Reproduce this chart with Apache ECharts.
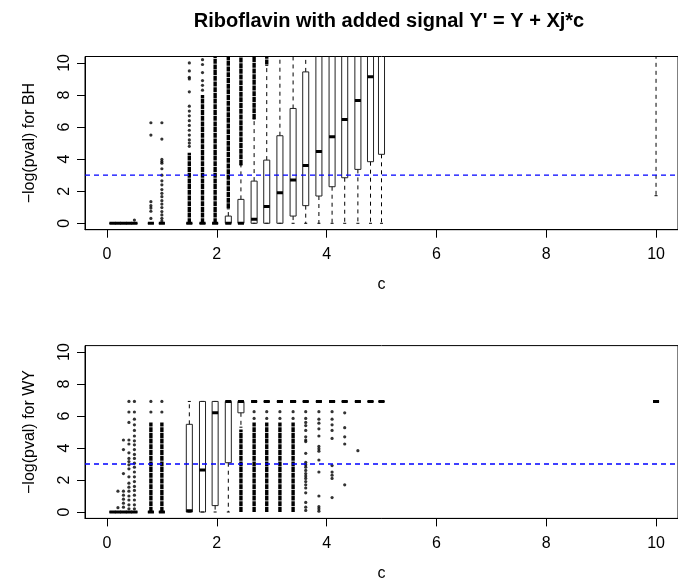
<!DOCTYPE html>
<html>
<head>
<meta charset="utf-8">
<title>Riboflavin boxplots</title>
<script src="https://cdn.jsdelivr.net/npm/echarts@6/dist/echarts.min.js"></script>
<style>
	html, body { margin: 0; padding: 0; background: #fff; }
	#chart { width: 678px; height: 587px; }
</style>
</head>
<body>
<div id="chart"></div>
<script>
// signal sizes c (same positions in both panels)
var cValues = [0.1, 0.2, 0.3, 0.4, 0.5, 0.8, 1.0, 1.5, 1.74, 1.97, 2.21, 2.44, 2.68, 2.91, 3.15, 3.39, 3.62, 3.86, 4.1, 4.33, 4.57, 4.8, 5.0, 10];

// BH panel: whisker low, Q1, median, Q3, whisker high
var bhLow  = [0, 0, 0, 0, 0, 0, 0, 0, 0, 0, 0, 0, 0, 0, 0, 0, 0, 0, 0, 0, 0, 0, 0, 1.72];
var bhQ1   = [0, 0, 0, 0, 0, 0, 0, 0, 0, 0, 0, 0, 0, 0, 0, 0.45, 1.1, 1.7, 2.28, 2.84, 3.36, 3.84, 4.3, 12];
var bhMed  = [0, 0, 0, 0, 0, 0, 0, 0, 0, 0, 0, 0, 0.25, 1.04, 1.9, 2.7, 3.6, 4.48, 5.4, 6.47, 7.66, 9.13, 11, 14];
var bhQ3   = [0, 0, 0, 0, 0, 0, 0, 0, 0, 0, 0.45, 1.49, 2.63, 3.94, 5.46, 7.16, 9.44, 11.5, 12.5, 13.5, 14.5, 15.5, 16.5, 16];
var bhHigh = [0, 0, 0, 0, 0, 0, 0, 0, 0, 0, 0.9, 3.63, 6.5, 9.85, 13, 16, 20, 23, 26, 29, 32, 35, 37, 20];
// BH outliers: dense runs [c, from, to] and single points [c, value]
var bhDense = [[1.5, 0, 4.4], [1.74, 0, 8.0], [1.97, 0, 10.4], [2.21, 0.93, 10.4], [2.44, 3.63, 10.4], [2.68, 6.5, 10.4], [2.91, 9.9, 10.4]];
var bhDots = [
	[0.5, 0.2],
	[0.8, 6.27], [0.8, 5.5], [0.8, 1.35], [0.8, 1.1], [0.8, 0.95], [0.8, 0.75], [0.8, 0.3],
	[1.0, 6.27], [1.0, 5.25], [1.0, 3.98], [1.0, 3.85], [1.0, 3.75], [1.0, 3.4], [1.0, 3.0], [1.0, 2.65], [1.0, 2.4], [1.0, 2.1],
	[1.0, 1.87], [1.0, 1.66], [1.0, 1.41], [1.0, 1.2], [1.0, 0.98], [1.0, 0.73], [1.0, 0.52], [1.0, 0.31], [1.0, 0.15],
	[1.5, 10.0], [1.5, 9.5], [1.5, 9.1], [1.5, 9.0], [1.5, 8.2], [1.5, 7.3], [1.5, 7.0], [1.5, 6.7], [1.5, 6.4], [1.5, 6.1],
	[1.5, 5.8], [1.5, 5.5], [1.5, 5.2], [1.5, 5.0], [1.5, 4.8],
	[1.74, 10.2], [1.74, 9.9], [1.74, 9.4], [1.74, 8.9], [1.74, 8.6], [1.74, 8.3]
];

// WY panel
var wyLow  = [0, 0, 0, 0, 0, 0, 0, 0, 0, 0, 0, 5.3, 6.91, 6.91, 6.91, 6.91, 6.91, 6.91, 6.91, 6.91, 6.91, 6.91, 6.91, 6.91];
var wyQ1   = [0, 0, 0, 0, 0, 0, 0, 0, 0, 0.4, 3.08, 6.2, 6.91, 6.91, 6.91, 6.91, 6.91, 6.91, 6.91, 6.91, 6.91, 6.91, 6.91, 6.91];
var wyMed  = [0, 0, 0, 0, 0, 0, 0, 0.08, 2.62, 6.2, 6.91, 6.91, 6.91, 6.91, 6.91, 6.91, 6.91, 6.91, 6.91, 6.91, 6.91, 6.91, 6.91, 6.91];
var wyQ3   = [0, 0, 0, 0, 0, 0, 0, 5.48, 6.91, 6.91, 6.91, 6.91, 6.91, 6.91, 6.91, 6.91, 6.91, 6.91, 6.91, 6.91, 6.91, 6.91, 6.91, 6.91];
var wyHigh = [0, 0, 0, 0, 0, 0, 0, 6.91, 6.91, 6.91, 6.91, 6.91, 6.91, 6.91, 6.91, 6.91, 6.91, 6.91, 6.91, 6.91, 6.91, 6.91, 6.91, 6.91];
var wyDense = [[0.8, 0, 5.6], [1.0, 0, 5.6], [2.44, 0, 5.15], [2.68, 0, 5.6], [2.91, 0, 5.6], [3.15, 0, 5.6], [3.39, 0, 5.6]];
var wyDots = [
	[0.2, 1.3], [0.2, 0.27],
	[0.3, 4.5], [0.3, 3.9], [0.3, 2.4], [0.3, 1.3], [0.3, 1.05], [0.3, 0.8], [0.3, 0.55], [0.3, 0.3],
	[0.4, 6.91], [0.4, 6.25], [0.4, 5.6], [0.4, 4.5], [0.4, 4.25], [0.4, 3.7], [0.4, 3.35], [0.4, 3.15], [0.4, 2.95],
	[0.4, 2.7], [0.4, 2.2], [0.4, 1.8], [0.4, 1.55], [0.4, 1.3], [0.4, 1.0], [0.4, 0.75], [0.4, 0.45], [0.4, 0.2],
	[0.5, 6.91], [0.5, 6.25], [0.5, 5.8], [0.5, 5.45], [0.5, 5.1], [0.5, 4.75], [0.5, 4.45], [0.5, 4.2], [0.5, 3.9],
	[0.5, 3.6], [0.5, 3.35], [0.5, 3.05], [0.5, 2.8], [0.5, 2.5], [0.5, 2.2], [0.5, 1.9], [0.5, 1.6], [0.5, 1.35],
	[0.5, 1.05], [0.5, 0.75], [0.5, 0.45], [0.5, 0.2],
	[0.8, 6.91], [0.8, 6.25], [1.0, 6.91], [1.0, 6.25],
	[2.68, 6.27], [2.68, 5.85], [2.91, 6.27], [2.91, 5.85], [3.15, 6.27], [3.15, 5.85], [3.39, 6.27], [3.39, 5.85],
	[3.62, 6.27], [3.62, 5.85], [3.62, 5.6], [3.62, 5.4], [3.62, 5.1], [3.62, 4.7], [3.62, 4.5], [3.62, 4.4], [3.62, 3.67],
	[3.62, 3.1], [3.62, 2.95], [3.62, 2.8], [3.62, 2.6], [3.62, 2.4], [3.62, 2.25], [3.62, 2.1], [3.62, 1.9], [3.62, 1.7],
	[3.62, 1.5], [3.62, 1.2], [3.62, 0.6], [3.62, 0.3], [3.62, 0.1],
	[3.86, 6.27], [3.86, 5.8], [3.86, 5.55], [3.86, 5.2], [3.86, 4.75], [3.86, 4.1], [3.86, 3.95], [3.86, 3.8], [3.86, 3.25],
	[3.86, 2.5], [3.86, 1.0], [3.86, 0.33], [3.86, 0.2], [3.86, 0.05],
	[4.1, 6.27], [4.1, 5.8], [4.1, 5.45], [4.1, 5.1], [4.1, 4.6], [4.1, 2.9], [4.1, 2.5], [4.1, 2.3], [4.1, 2.1], [4.1, 0.9],
	[4.33, 6.2], [4.33, 5.27], [4.33, 4.7], [4.33, 4.25], [4.33, 1.7],
	[4.57, 3.83]
];

var ticks = [0, 2, 4, 6, 8, 10];
var cutoff = 3;

(function () {
	var font = 'Liberation Sans, Arial, Helvetica, sans-serif';
	var halfBox = 0.055;
	var axMin = -0.4, axMax = 10.4;

	function boxRows(low, q1, med, q3, high) {
		return cValues.map(function (c, i) {
			return [c, low[i], q1[i], med[i], q3[i], high[i]];
		});
	}

	// one R-style box: dashed whiskers, staples, open box, thick median
	function renderBox(params, api) {
		var c = api.value(0);
		var lo = api.value(1), q1 = api.value(2), med = api.value(3), q3 = api.value(4), hi = api.value(5);
		var xl = api.coord([c - halfBox, 0])[0];
		var xr = api.coord([c + halfBox, 0])[0];
		var xm = api.coord([c, 0])[0];
		var sl = api.coord([c - halfBox / 2, 0])[0];
		var sr = api.coord([c + halfBox / 2, 0])[0];
		function y(v) { return api.coord([c, v])[1]; }
		var dash = { stroke: '#000', lineWidth: 1, lineDash: [4, 4] };
		var solid = { stroke: '#000', lineWidth: 1 };
		var kids = [
			{ type: 'line', shape: { x1: xm, y1: y(q3), x2: xm, y2: y(hi) }, style: dash },
			{ type: 'line', shape: { x1: xm, y1: y(q1), x2: xm, y2: y(lo) }, style: dash },
			{ type: 'line', shape: { x1: sl, y1: y(hi), x2: sr, y2: y(hi) }, style: solid },
			{ type: 'line', shape: { x1: sl, y1: y(lo), x2: sr, y2: y(lo) }, style: solid },
			{ type: 'rect', shape: { x: xl, y: y(q3), width: xr - xl, height: y(q1) - y(q3) }, style: { fill: 'none', stroke: '#222', lineWidth: 1 } },
			{ type: 'line', shape: { x1: xl, y1: y(med), x2: xr, y2: y(med) }, style: { stroke: '#000', lineWidth: 3 } }
		];
		return { type: 'group', children: kids };
	}

	// a column of overlapping outlier points
	function renderDense(params, api) {
		var p1 = api.coord([api.value(0), api.value(1)]);
		var p2 = api.coord([api.value(0), api.value(2)]);
		return {
			type: 'line',
			shape: { x1: p1[0], y1: p1[1], x2: p2[0], y2: p2[1] },
			style: { stroke: '#000', lineWidth: 3.4, lineDash: [5, 0.7] }
		};
	}

	function xAxis(idx) {
		return {
			type: 'value', gridIndex: idx, min: axMin, max: axMax,
			name: 'c', nameLocation: 'middle', nameGap: 47,
			nameTextStyle: { fontFamily: font, fontSize: 16, color: '#000' },
			splitLine: { show: false },
			axisLine: { show: true, onZero: false, lineStyle: { color: '#000', width: 1 } },
			axisTick: { show: true, length: 8, customValues: ticks, lineStyle: { color: '#000' } },
			axisLabel: { customValues: ticks, margin: 17, fontFamily: font, fontSize: 16, color: '#000' }
		};
	}

	function yAxis(idx, name) {
		return {
			type: 'value', gridIndex: idx, min: axMin, max: axMax,
			name: name, nameLocation: 'middle', nameGap: 47, nameRotate: 90,
			nameTextStyle: { fontFamily: font, fontSize: 16, color: '#000' },
			splitLine: { show: false },
			axisLine: { show: true, onZero: false, lineStyle: { color: '#000', width: 1 } },
			axisTick: { show: true, length: 8, customValues: ticks, lineStyle: { color: '#000' } },
			axisLabel: { customValues: ticks, rotate: 90, margin: 12, fontFamily: font, fontSize: 16, color: '#000' }
		};
	}

	function panel(idx, rows, dense, dots) {
		return [
			{
				type: 'custom', xAxisIndex: idx, yAxisIndex: idx, clip: true,
				renderItem: renderBox, data: rows, silent: true
			},
			{
				type: 'custom', xAxisIndex: idx, yAxisIndex: idx, clip: true,
				renderItem: renderDense, data: dense, silent: true
			},
			{
				type: 'scatter', xAxisIndex: idx, yAxisIndex: idx,
				symbol: 'circle', symbolSize: 3.2, data: dots, silent: true,
				itemStyle: { color: '#000' }
			},
			{
				// horizontal cutoff line across the whole plot region
				type: 'line', xAxisIndex: idx, yAxisIndex: idx, silent: true,
				symbol: 'none', z: 5,
				data: [[axMin, cutoff], [axMax, cutoff]],
				lineStyle: { color: '#0000ff', type: [5, 4], width: 1.3, opacity: 1 },
				itemStyle: { color: '#0000ff' }
			}
		];
	}

	var chart = echarts.init(document.getElementById('chart'));
	var option = {
		animation: false,
		backgroundColor: '#fff',
		title: {
			text: "Riboflavin with added signal Y' = Y + Xj*c",
			left: 384, top: 6, textAlign: 'center',
			textStyle: { fontFamily: font, fontSize: 20, fontWeight: 'bold', color: '#000' }
		},
		grid: [
			{ left: 85, top: 56.5, width: 599, height: 173.2, show: true, borderColor: '#000', borderWidth: 1, backgroundColor: 'transparent' },
			{ left: 85, top: 345.6, width: 599, height: 172.8, show: true, borderColor: '#000', borderWidth: 1, backgroundColor: 'transparent' }
		],
		xAxis: [xAxis(0), xAxis(1)],
		yAxis: [yAxis(0, '\u2212log(pval) for BH'), yAxis(1, '\u2212log(pval) for WY')],
		series: panel(0, boxRows(bhLow, bhQ1, bhMed, bhQ3, bhHigh), bhDense, bhDots)
			.concat(panel(1, boxRows(wyLow, wyQ1, wyMed, wyQ3, wyHigh), wyDense, wyDots))
	};
	chart.setOption(option);
})();
</script>
</body>
</html>
